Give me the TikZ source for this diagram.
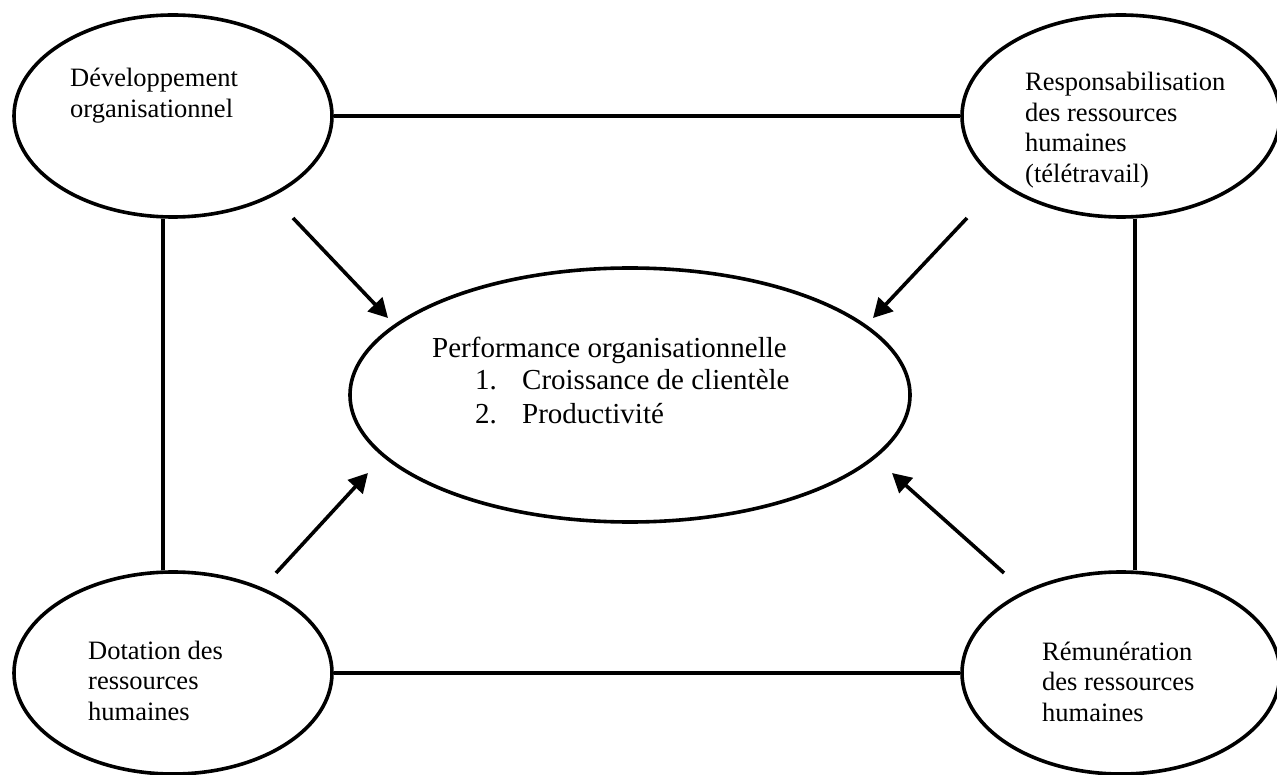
\documentclass[tikz,border=0pt]{standalone}
\usepackage{fontspec}
\setmainfont{Liberation Serif}
\usetikzlibrary{arrows.meta,shapes.geometric}

\begin{document}
\begin{tikzpicture}[x=1pt,y=-1pt,
  bubble/.style={draw,ellipse,line width=3.6pt,inner sep=0pt},
  side/.style={bubble,minimum width=318pt,minimum height=202pt},
  txt/.style={anchor=base west,align=left,inner sep=0pt,font=\fontsize{26.5}{30.5}\selectfont},
  link/.style={line width=3.6pt},
  push/.style={line width=3.6pt,-{Triangle[length=19pt,width=20pt]}}]
  \useasboundingbox (0,0) rectangle (1277,775);
  % the five ellipses
  \node[side] (devo) at (173,116) {};
  \node[side] (resp) at (1121,116) {};
  \node[side] (dota) at (173,673) {};
  \node[side] (remu) at (1121,673) {};
  \node[bubble,minimum width=560pt,minimum height=254pt] (perf) at (630,395) {};
  % their texts (placed by the baseline of the last line)
  \node[txt] (devotxt) at (70,117.5) {Développement\\organisationnel};
  \node[txt] (resptxt) at (1025,182.5) {Responsabilisation\\des ressources\\humaines\\(télétravail)};
  \node[txt] (dotatxt) at (88,720) {Dotation des\\ressources\\humaines};
  \node[txt] (remutxt) at (1042,721) {Rémunération\\des ressources\\humaines};
  \node[txt,font=\fontsize{29}{33}\selectfont] (perftxt) at (432,423)
    {Performance organisationnelle\\
     \hspace*{43pt}\makebox[47pt][l]{1.}Croissance de clientèle\\
     \hspace*{43pt}\makebox[47pt][l]{2.}Productivité};
  % links around the frame
  \draw[link] (devo) -- (resp);
  \draw[link] (dota) -- (remu);
  \draw[link] ([xshift=-10pt]devo.south) -- ([xshift=-10pt]dota.north);
  \draw[link] ([xshift=14pt]resp.south) -- ([xshift=14pt]remu.north);
  % arrows into the centre
  \coordinate (devoout) at (293,218);
  \coordinate (devoin) at (388,318);
  \coordinate (respout) at (967,218);
  \coordinate (respin) at (873,318);
  \coordinate (dotaout) at (276,573);
  \coordinate (dotain) at (368,473);
  \coordinate (remuout) at (1004,573);
  \coordinate (remuin) at (892,473);
  \draw[push] (devoout) -- (devoin);
  \draw[push] (respout) -- (respin);
  \draw[push] (dotaout) -- (dotain);
  \draw[push] (remuout) -- (remuin);
\end{tikzpicture}
\end{document}
